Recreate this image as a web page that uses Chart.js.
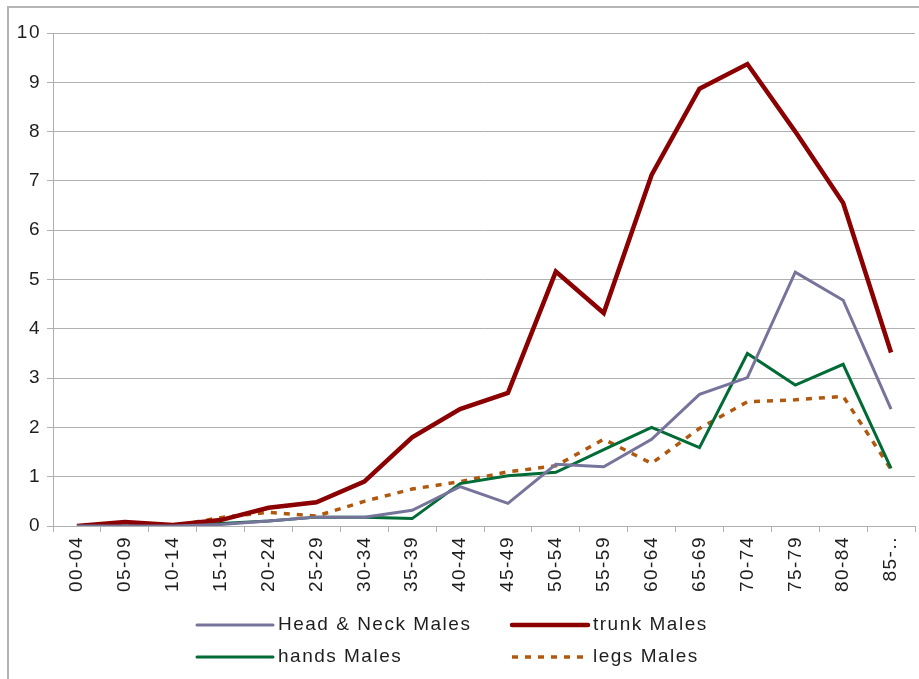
<!DOCTYPE html>
<html lang="en">

<head>
    <meta charset="UTF-8">
    <title>Males by age group</title>
    <script src="https://cdn.jsdelivr.net/npm/chart.js"></script>
    <style>
        html, body { margin: 0; padding: 0; background: #fff; }
        #wrap { width: 919px; height: 679px; }
    </style>
</head>

<body>
    <div id="wrap"><canvas id="lineChart" width="919" height="679"></canvas></div>

    <script>
        const ageGroups = ['00-04', '05-09', '10-14', '15-19', '20-24', '25-29', '30-34', '35-39', '40-44',
            '45-49', '50-54', '55-59', '60-64', '65-69', '70-74', '75-79', '80-84', '85-..'];
        const headNeck = [0, 0, 0, 0.03, 0.1, 0.18, 0.18, 0.32, 0.8, 0.46, 1.25, 1.2, 1.76, 2.67, 3.01, 5.15, 4.58, 2.37];
        const trunk = [0, 0.08, 0.02, 0.12, 0.37, 0.48, 0.9, 1.8, 2.37, 2.7, 5.16, 4.32, 7.12, 8.87, 9.37, 8.0, 6.55, 3.52];
        const hands = [0, 0, 0, 0.05, 0.1, 0.18, 0.18, 0.15, 0.86, 1.02, 1.09, 1.55, 2.0, 1.59, 3.5, 2.86, 3.28, 1.17];
        const legs = [0, 0.03, 0, 0.17, 0.28, 0.2, 0.5, 0.75, 0.9, 1.1, 1.22, 1.76, 1.27, 1.98, 2.52, 2.56, 2.63, 1.15];
        const yTicks = [0, 1, 2, 3, 4, 5, 6, 7, 8, 9, 10];

        const fontFamily = "'Liberation Sans', Arial, sans-serif";
        const spacing = '1.5px';

        // legend drawn in two aligned columns like the original
        const legendPlugin = {
            id: 'colLegend',
            beforeUpdate(chart) {
                chart.ctx.letterSpacing = spacing;
            },
            beforeDraw(chart) {
                const ctx = chart.ctx;
                ctx.letterSpacing = spacing;
                ctx.save();
                ctx.strokeStyle = '#b4b4b4';
                ctx.lineWidth = 2;
                ctx.beginPath();
                ctx.moveTo(8, 679);
                ctx.lineTo(8, 7);
                ctx.lineTo(919, 7);
                ctx.stroke();
                ctx.restore();
            },
            afterDraw(chart) {
                const ctx = chart.ctx;
                const cols = [197, 512];
                const rows = [625, 657];
                ctx.save();
                ctx.font = '19px ' + fontFamily;
                ctx.textBaseline = 'middle';
                ctx.fillStyle = '#1e1e1e';
                chart.data.datasets.forEach((ds, i) => {
                    const x = cols[i % 2];
                    const y = rows[Math.floor(i / 2)];
                    ctx.beginPath();
                    ctx.strokeStyle = ds.borderColor;
                    ctx.lineWidth = ds.borderWidth;
                    ctx.setLineDash(ds.borderDash || []);
                    ctx.lineCap = ds.borderDash ? 'butt' : 'round';
                    ctx.moveTo(x, y);
                    ctx.lineTo(x + 76, y);
                    ctx.stroke();
                    ctx.setLineDash([]);
                    ctx.fillText(ds.label, x + 81, y);
                });
                ctx.restore();
            }
        };

        function makeSet(label, data, color, width, dash) {
            const ds = {
                label: label,
                data: data,
                borderColor: color,
                backgroundColor: color,
                borderWidth: width,
                pointRadius: 0,
                tension: 0,
                fill: false
            };
            if (dash) ds.borderDash = dash;
            return ds;
        }

        new Chart(document.getElementById('lineChart'), {
            type: 'line',
            data: {
                labels: ageGroups,
                datasets: [
                    makeSet('Head & Neck Males', headNeck, '#77749c', 3),
                    makeSet('trunk Males', trunk, '#8b0000', 4.5),
                    makeSet('hands Males', hands, '#006b35', 3),
                    makeSet('legs Males', legs, '#b1580f', 3.5, [6, 7])
                ]
            },
            options: {
                responsive: false,
                animation: false,
                layout: { padding: { left: 8, right: 4, top: 33, bottom: 79 } },
                plugins: {
                    legend: { display: false },
                    tooltip: { enabled: false }
                },
                scales: {
                    x: {
                        offset: true,
                        grid: { drawOnChartArea: false, drawTicks: true, tickLength: 6, color: '#b0b0b0', offset: true },
                        border: { color: '#b0b0b0' },
                        ticks: {
                            minRotation: 90, maxRotation: 90, autoSkip: false,
                            color: '#1e1e1e', font: { family: fontFamily, size: 19 }, padding: 4
                        },
                        afterFit(scale) { scale.height = 74; }
                    },
                    y: {
                        min: 0, max: 10,
                        afterBuildTicks(scale) { scale.ticks = yTicks.map(v => ({ value: v })); },
                        grid: { color: '#b0b0b0', tickLength: 6 },
                        border: { color: '#b0b0b0' },
                        ticks: { color: '#1e1e1e', font: { family: fontFamily, size: 19 }, padding: 6 },
                        afterFit(scale) { scale.width = 45; }
                    }
                }
            },
            plugins: [legendPlugin]
        });
    </script>
</body>

</html>
